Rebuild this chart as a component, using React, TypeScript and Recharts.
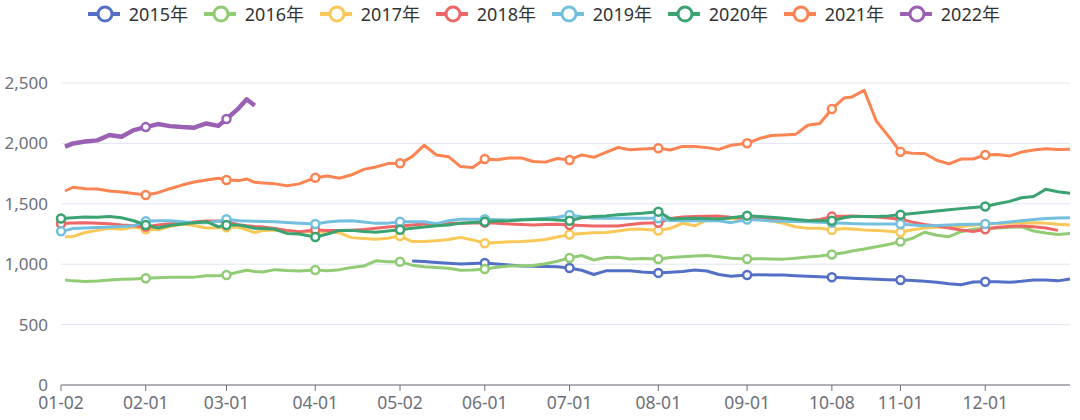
import { CartesianGrid, Line, LineChart, XAxis, YAxis } from 'recharts';

const FONT = '"Noto Sans", "Noto Sans CJK SC", sans-serif';
const AXIS_COLOR = '#6E7079';

// trading-day index of each sample (0 = 01-02, 250 = last trading day)
const days = [
  0, 1, 3, 6, 9, 12, 15, 18, 21,
  24, 27, 30, 33, 36, 39, 41,
  44, 46, 48, 50, 53, 56, 59, 63,
  66, 69, 72, 75, 78, 81, 84,
  87, 90, 93, 96, 99, 102, 105,
  108, 111, 114, 117, 120, 123, 126,
  129, 132, 135, 138, 141, 144, 148,
  151, 154, 157, 160, 163, 166, 170,
  173, 176, 179, 182, 185, 188, 191,
  194, 196, 199, 202, 205, 208,
  211, 214, 217, 220, 223, 226, 229,
  232, 235, 238, 241, 244, 247, 250,
];

const tickDays = [0, 21, 41, 63, 84, 105, 126, 148, 170, 191, 208, 229];
const tickLabels = ['01-02', '02-01', '03-01', '04-01', '05-02', '06-01', '07-01', '08-01', '09-01', '10-08', '11-01', '12-01'];
const yTicks = [0, 500, 1000, 1500, 2000, 2500];

const y2015 = [
  null, null, null, null, null, null, null, null, null,
  null, null, null, null, null, null, null,
  null, null, null, null, null, null, null, null,
  null, null, null, null, null, null, null,
  1027, 1022, 1015, 1008, 1002, 1005, 1010,
  1002, 993, 985, 983, 980, 978, 968,
  950, 915, 945, 945, 946, 935, 928,
  933, 940, 952, 944, 915, 900, 911,
  912, 911, 910, 905, 900, 896, 892,
  888, 884, 879, 875, 872, 869,
  865, 858, 850, 838, 830, 852, 855,
  855, 850, 858, 869, 869, 862, 878,
];

const y2016 = [
  null, 869, 862, 857, 860, 869, 875, 878, 883,
  888, 892, 892, 893, 905, 905, 911,
  935, 950, 940, 935, 955, 948, 944, 952,
  946, 955, 972, 985, 1028, 1021, 1021,
  992, 978, 972, 966, 950, 952, 960,
  975, 985, 988, 990, 1003, 1025, 1052,
  1072, 1035, 1055, 1058, 1043, 1048, 1043,
  1055, 1062, 1068, 1072, 1062, 1050, 1043,
  1045, 1043, 1042, 1050, 1060, 1068, 1080,
  1095, 1110, 1126, 1145, 1163, 1187,
  1215, 1265, 1240, 1228, 1269, 1290, 1297,
  1300, 1305, 1310, 1275, 1258, 1245, 1255,
];

const y2017 = [
  null, 1228, 1230, 1262, 1280, 1297, 1290, 1308, 1289,
  1285, 1312, 1330, 1320, 1300, 1302, 1306,
  1306, 1285, 1262, 1278, 1283, 1280, 1269, 1270,
  1269, 1260, 1220, 1212, 1206, 1215, 1234,
  1187, 1187, 1195, 1205, 1222, 1201, 1173,
  1180, 1185, 1187, 1195, 1205, 1225, 1246,
  1255, 1261, 1262, 1275, 1289, 1289, 1278,
  1297, 1339, 1318, 1366, 1378, 1378, 1380,
  1370, 1358, 1338, 1310, 1297, 1297, 1283,
  1295, 1292, 1283, 1280, 1272, 1264,
  1285, 1300, 1306, 1308, 1311, 1322, 1333,
  1336, 1339, 1341, 1344, 1338, 1330, 1325,
];

const y2018 = [
  1335, 1338, 1342, 1344, 1340, 1335, 1325, 1318, 1311,
  1325, 1335, 1342, 1350, 1358, 1358, 1352,
  1327, 1318, 1312, 1308, 1296, 1280, 1268, 1283,
  1280, 1278, 1282, 1287, 1297, 1308, 1317,
  1325, 1332, 1335, 1338, 1339, 1342, 1344,
  1338, 1333, 1328, 1325, 1328, 1330, 1325,
  1320, 1317, 1317, 1317, 1328, 1339, 1344,
  1378, 1390, 1394, 1396, 1398, 1388, 1380,
  1375, 1372, 1366, 1362, 1360, 1370, 1394,
  1397, 1399, 1395, 1390, 1382, 1372,
  1348, 1328, 1317, 1300, 1283, 1270, 1289,
  1305, 1313, 1317, 1310, 1300, 1280, null,
];

const y2019 = [
  1272, 1278, 1295, 1300, 1303, 1308, 1313, 1318, 1355,
  1360, 1360, 1352, 1344, 1344, 1355, 1372,
  1360, 1358, 1356, 1354, 1352, 1346, 1340, 1333,
  1350, 1358, 1360, 1350, 1338, 1340, 1352,
  1352, 1352, 1335, 1360, 1372, 1372, 1372,
  1368, 1366, 1370, 1375, 1380, 1388, 1408,
  1392, 1380, 1380, 1380, 1380, 1380, 1380,
  1362, 1360, 1360, 1360, 1360, 1344, 1370,
  1365, 1358, 1356, 1354, 1352, 1348, 1344,
  1340, 1336, 1333, 1333, 1333, 1333,
  1325, 1318, 1320, 1325, 1328, 1330, 1333,
  1340, 1350, 1360, 1370, 1378, 1383, 1385,
];

const y2020 = [
  1378, 1380, 1385, 1390, 1388, 1394, 1385, 1360, 1325,
  1300, 1320, 1333, 1344, 1352, 1310, 1325,
  1325, 1312, 1297, 1295, 1289, 1255, 1250, 1225,
  1250, 1280, 1280, 1270, 1265, 1275, 1285,
  1297, 1308, 1318, 1325, 1340, 1345, 1352,
  1358, 1360, 1365, 1370, 1372, 1365, 1360,
  1385, 1394, 1400, 1410, 1416, 1422, 1435,
  1375, 1378, 1380, 1378, 1374, 1385, 1402,
  1395, 1388, 1380, 1370, 1362, 1360, 1360,
  1385, 1394, 1394, 1395, 1400, 1410,
  1420, 1430, 1440, 1450, 1460, 1470, 1478,
  1500, 1520, 1550, 1560, 1620, 1600, 1587,
];

const y2021 = [
  null, 1606, 1637, 1625, 1622, 1606, 1598, 1585, 1573,
  1592, 1625, 1655, 1680, 1697, 1712, 1697,
  1692, 1706, 1678, 1672, 1665, 1650, 1665, 1716,
  1730, 1711, 1740, 1785, 1805, 1833, 1835,
  1890, 1985, 1904, 1890, 1808, 1800, 1871,
  1865, 1880, 1880, 1850, 1845, 1875, 1863,
  1905, 1885, 1925, 1966, 1948, 1954, 1960,
  1945, 1975, 1975, 1965, 1950, 1985, 2001,
  2040, 2065, 2070, 2075, 2150, 2165, 2285,
  2375, 2385, 2440, 2185, 2060, 1930,
  1918, 1916, 1860, 1830, 1870, 1871, 1905,
  1908, 1895, 1928, 1945, 1955, 1950, 1951,
];

const y2022 = [
  null, 1973, 2000, 2015, 2025, 2070, 2055, 2110, 2135,
  2160, 2143, 2135, 2130, 2165, 2145, 2202,
  2290, 2365, 2313,
];

const SERIES = [
  { key: 'y2015', name: '2015年', color: '#5470c6', values: y2015, width: 3 },
  { key: 'y2016', name: '2016年', color: '#91cc75', values: y2016, width: 3 },
  { key: 'y2017', name: '2017年', color: '#fac858', values: y2017, width: 3 },
  { key: 'y2018', name: '2018年', color: '#ee6666', values: y2018, width: 3 },
  { key: 'y2019', name: '2019年', color: '#73c0de', values: y2019, width: 3 },
  { key: 'y2020', name: '2020年', color: '#3ba272', values: y2020, width: 3 },
  { key: 'y2021', name: '2021年', color: '#fc8452', values: y2021, width: 3 },
  { key: 'y2022', name: '2022年', color: '#9a60b4', values: y2022, width: 4.5 },
];

const rows = days.map((day, i) => {
  const row: Record<string, number | null> = { day };
  SERIES.forEach((s) => {
    row[s.key] = s.values[i] ?? null;
  });
  return row;
});

const TICK_SET = new Set(tickDays);
const formatDay = (d: number) => tickLabels[tickDays.indexOf(d)] ?? '';

function makeDot(color: string) {
  return (props: any) => {
    const { cx, cy, payload, value, index } = props;
    if (value == null || cy == null || !TICK_SET.has(payload.day)) {
      return <g key={`e-${index}`} />;
    }
    return <circle key={`d-${index}`} cx={cx} cy={cy} r={4} fill="#fff" stroke={color} strokeWidth={2.5} />;
  };
}

function ChartLegend() {
  return (
    <div style={{ position: 'absolute', left: 88, top: 4, height: 20, display: 'flex', alignItems: 'center' }}>
      {SERIES.map((s) => (
        <div key={s.key} style={{ display: 'flex', alignItems: 'center', width: 100, marginRight: 16 }}>
          <svg width={34} height={20}>
            <line x1={0} y1={10} x2={34} y2={10} stroke={s.color} strokeWidth={4} />
            <circle cx={17} cy={10} r={7} fill="#fff" stroke={s.color} strokeWidth={3} />
          </svg>
          <span style={{ marginLeft: 9, fontSize: 18, color: '#333', lineHeight: '20px', whiteSpace: 'nowrap' }}>{s.name}</span>
        </div>
      ))}
    </div>
  );
}

export default function App() {
  return (
    <div style={{ position: 'absolute', left: 0, top: 0, width: 1080, height: 420, background: '#fff', fontFamily: FONT }}>
      <ChartLegend />
      <LineChart width={1080} height={420} data={rows} margin={{ top: 83, right: 10, bottom: 0, left: 0 }}>
        <CartesianGrid vertical={false} stroke="#E0E6F1" />
        <XAxis
          type="number"
          dataKey="day"
          domain={[0, 250]}
          ticks={tickDays}
          interval={0}
          tickFormatter={formatDay}
          height={35}
          axisLine={{ stroke: AXIS_COLOR }}
          tickLine={{ stroke: AXIS_COLOR }}
          tickSize={6}
          tickMargin={6}
          tick={{ fill: AXIS_COLOR, fontSize: 17.5, fontFamily: FONT }}
        />
        <YAxis
          domain={[0, 2500]}
          ticks={yTicks}
          width={61}
          axisLine={false}
          tickLine={false}
          tickMargin={7}
          tick={{ fill: AXIS_COLOR, fontSize: 17, fontFamily: FONT }}
          tickFormatter={(v: number) => v.toLocaleString('en-US')}
        />
        {SERIES.map((s) => (
          <Line
            key={s.key}
            type="linear"
            dataKey={s.key}
            stroke={s.color}
            strokeWidth={s.width}
            strokeLinejoin="round"
            dot={makeDot(s.color)}
            activeDot={false}
            isAnimationActive={false}
          />
        ))}
      </LineChart>
    </div>
  );
}
